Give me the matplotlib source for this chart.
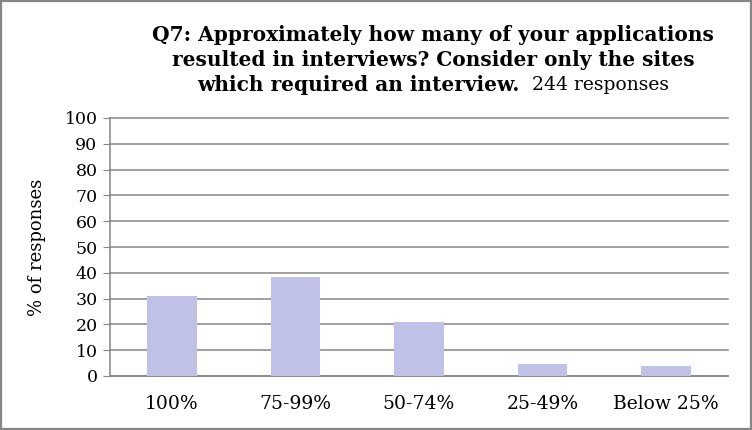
import matplotlib
matplotlib.use('Agg')
import matplotlib.pyplot as plt
from matplotlib.patches import Rectangle

categories = ['100%', '75-99%', '50-74%', '25-49%', 'Below 25%']
values = [31.0, 38.5, 21.0, 4.7, 4.0]
yticks = [0, 10, 20, 30, 40, 50, 60, 70, 80, 90, 100]

title_l1 = 'Q7: Approximately how many of your applications'
title_l2 = 'resulted in interviews? Consider only the sites'
title_l3_bold = 'which required an interview.'
title_l3_reg = '  244 responses'

bar_color = '#BFC2E6'
grey = '#868686'
plt.rcParams['font.family'] = ['DejaVu Serif']

fig = plt.figure(figsize=(7.52, 4.30), dpi=100)
ax = fig.add_axes([110 / 752, 1 - 376 / 430, 618 / 752, 258 / 430])

x = range(len(categories))
ax.bar(x, values, width=0.4, color=bar_color, zorder=3)
ax.set_xlim(-0.5, len(categories) - 0.5)
ax.set_ylim(0, 100)
ax.set_yticks(yticks)
ax.set_xticks(list(x))
ax.set_xticklabels(categories, fontsize=13.5)
ax.tick_params(axis='y', labelsize=12.5, length=5, color=grey, pad=4)
ax.tick_params(axis='x', length=0, pad=14)
ax.yaxis.grid(True, color=grey, linewidth=1.1, zorder=0)
for gl in ax.get_ygridlines():
    gl.set_clip_on(False)
ax.set_axisbelow(True)
for s in ['top', 'right']:
    ax.spines[s].set_visible(False)
for s in ['left', 'bottom']:
    ax.spines[s].set_color(grey)
    ax.spines[s].set_linewidth(1.1)
ax.set_ylabel('% of responses', fontsize=13, labelpad=13)

# title, three centred lines, last one partly regular
cx = 433 / 752
fig.text(cx, 1 - 35 / 430, title_l1, ha='center', va='center',
         fontsize=14.5, fontweight='bold')
fig.text(cx, 1 - 60 / 430, title_l2, ha='center', va='center',
         fontsize=14.5, fontweight='bold')
t_b = fig.text(0, 1 - 85 / 430, title_l3_bold, ha='left', va='center',
               fontsize=14.5, fontweight='bold')
t_r = fig.text(0, 1 - 85 / 430, title_l3_reg, ha='left', va='center',
               fontsize=13.5)
r = fig.canvas.get_renderer()
wb = t_b.get_window_extent(r).width / 752
wr = t_r.get_window_extent(r).width / 752
start = cx - (wb + wr) / 2
t_b.set_x(start)
t_r.set_x(start + wb)

fig.patches.append(Rectangle((0.0015, 0.0025), 0.997, 0.995, transform=fig.transFigure,
                             fill=False, edgecolor=grey, linewidth=1.6))

fig.savefig('out.png', dpi=100)
